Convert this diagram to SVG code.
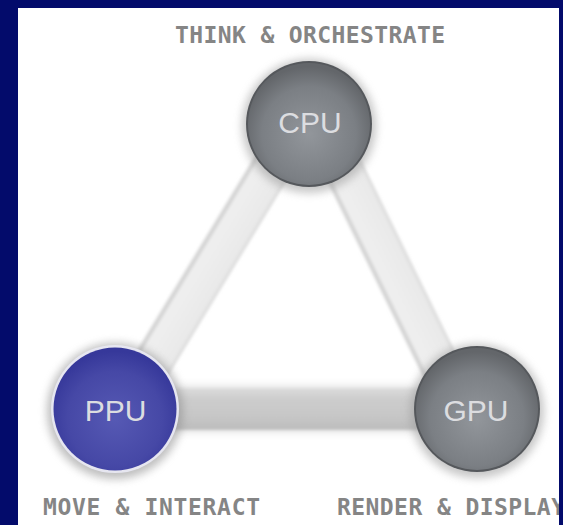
<svg xmlns="http://www.w3.org/2000/svg" width="563" height="525" viewBox="0 0 563 525">
  <defs>
    <style>
      .label { font-family: "DejaVu Sans Mono", "Liberation Mono", monospace; font-size: 23px; font-weight: bold; fill: #858585; }
      .chip { font-family: "Liberation Sans", Arial, sans-serif; font-size: 30px; fill: #dcdde0; text-anchor: middle; }
    </style>
    <linearGradient id="barH" x1="0" y1="0" x2="0" y2="1">
      <stop offset="0" stop-color="#dcdcdc"/>
      <stop offset="0.25" stop-color="#cdcdcd"/>
      <stop offset="0.7" stop-color="#c6c6c6"/>
      <stop offset="1" stop-color="#bcbcbc"/>
    </linearGradient>
    <linearGradient id="barD" x1="0" y1="0" x2="0" y2="1">
      <stop offset="0" stop-color="#d6d6d6"/>
      <stop offset="0.1" stop-color="#e9e9e9"/>
      <stop offset="0.85" stop-color="#efefef"/>
      <stop offset="0.94" stop-color="#cccccc"/>
      <stop offset="1" stop-color="#e6e6e6"/>
    </linearGradient>
    <radialGradient id="grey" cx="0.5" cy="0.58" r="0.55">
      <stop offset="0" stop-color="#92969b"/>
      <stop offset="0.7" stop-color="#7b7f84"/>
      <stop offset="1" stop-color="#63666a"/>
    </radialGradient>
    <radialGradient id="blue" cx="0.5" cy="0.58" r="0.55">
      <stop offset="0" stop-color="#5659b4"/>
      <stop offset="0.7" stop-color="#4648a6"/>
      <stop offset="1" stop-color="#36389a"/>
    </radialGradient>
    <filter id="soft" x="-20%" y="-20%" width="140%" height="140%">
      <feGaussianBlur stdDeviation="1.6"/>
    </filter>
    <filter id="halo" x="-30%" y="-30%" width="160%" height="160%">
      <feGaussianBlur stdDeviation="4"/>
    </filter>
    <clipPath id="panel">
      <rect x="18" y="8" width="541" height="517"/>
    </clipPath>
  </defs>

  <!-- backdrop and white panel -->
  <rect x="0" y="0" width="563" height="525" fill="#030b6b"/>
  <rect x="18" y="8" width="541" height="517" fill="#ffffff"/>

  <g clip-path="url(#panel)">
    <!-- links between the processors -->
    <g id="connectors">
      <g filter="url(#soft)">
        <rect x="115" y="386" width="362" height="46" fill="#e2e2e2" filter="url(#halo)"/>
        <rect x="115" y="388" width="362" height="42" fill="url(#barH)"/>
      </g>
      <g filter="url(#soft)">
        <rect x="0" y="-20" width="333" height="40" fill="url(#barD)" transform="translate(297.5,124) rotate(121.26)"/>
        <rect x="0" y="-20" width="318" height="40" fill="url(#barD)" transform="translate(321,124) rotate(63.84)"/>
      </g>
    </g>

    <!-- CPU node -->
    <g id="cpu">
      <circle cx="309" cy="126" r="67" fill="#9a9a9a" opacity="0.55" filter="url(#halo)"/>
      <circle cx="309" cy="124" r="63" fill="#55585c"/>
      <circle cx="309" cy="124" r="61" fill="url(#grey)"/>
      <text class="chip" x="310" y="133">CPU</text>
    </g>

    <!-- PPU node -->
    <g id="ppu">
      <circle cx="115" cy="411" r="68" fill="#8a8a8a" opacity="0.55" filter="url(#halo)"/>
      <circle cx="115" cy="409" r="64" fill="#e6e6f0"/>
      <circle cx="115" cy="409" r="61.5" fill="url(#blue)"/>
      <text class="chip" x="115.5" y="421">PPU</text>
    </g>

    <!-- GPU node -->
    <g id="gpu">
      <circle cx="477" cy="411" r="67" fill="#9a9a9a" opacity="0.55" filter="url(#halo)"/>
      <circle cx="477" cy="409" r="63" fill="#55585c"/>
      <circle cx="477" cy="409" r="61" fill="url(#grey)"/>
      <text class="chip" x="476" y="421">GPU</text>
    </g>

    <!-- role captions -->
    <text class="label" x="175" y="43" textLength="270" lengthAdjust="spacing">THINK &amp; ORCHESTRATE</text>
    <text class="label" x="43" y="515" textLength="217" lengthAdjust="spacing">MOVE &amp; INTERACT</text>
    <text class="label" x="337" y="515" textLength="228" lengthAdjust="spacing">RENDER &amp; DISPLAY</text>
  </g>
</svg>
